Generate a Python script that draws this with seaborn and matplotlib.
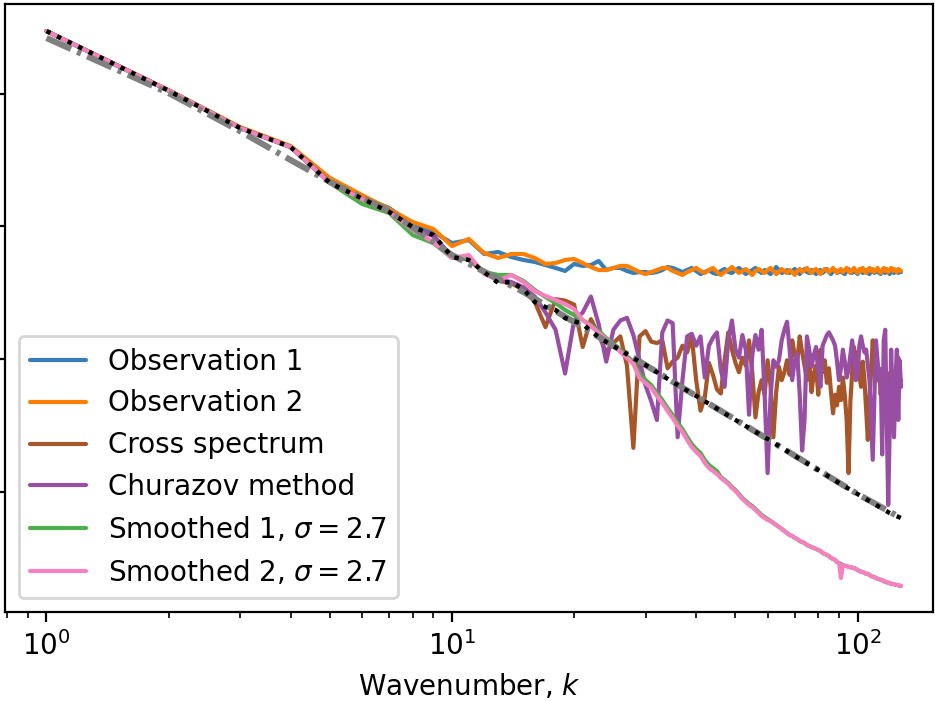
import numpy as np
import pandas as pd
import matplotlib
matplotlib.use("Agg")
import matplotlib.pyplot as plt
import seaborn as sns
from matplotlib.ticker import NullLocator, NullFormatter

# ---------------- data (log10 of power) ----------------
k = list(range(1, 129))

obs1_log10 = [0.471, 0.023, -0.259, -0.403, -0.659, -0.780, -0.862, -0.991, -1.043, -1.127, -1.104, -1.209,
              -1.194, -1.232, -1.254, -1.269, -1.292, -1.314, -1.337, -1.284, -1.299, -1.292, -1.262, -1.330,
              -1.314, -1.314, -1.337, -1.352, -1.345, -1.345, -1.352, -1.345, -1.330, -1.307,
              -1.314, -1.330, -1.345, -1.330, -1.314, -1.337, -1.360, -1.345, -1.330, -1.352,
              -1.360, -1.337, -1.322, -1.345, -1.352, -1.330, -1.314, -1.337, -1.360, -1.345,
              -1.330, -1.314, -1.337, -1.352, -1.330, -1.345, -1.360, -1.337, -1.307, -1.330,
              -1.352, -1.345, -1.330, -1.352, -1.337, -1.322, -1.345, -1.360, -1.337, -1.322,
              -1.345, -1.352, -1.330, -1.345, -1.360, -1.337, -1.330, -1.352, -1.337, -1.322,
              -1.345, -1.360, -1.337, -1.330, -1.352, -1.345, -1.330, -1.352, -1.360, -1.337,
              -1.322, -1.345, -1.352, -1.330, -1.345, -1.360, -1.337, -1.330, -1.352, -1.345,
              -1.330, -1.352, -1.360, -1.337, -1.330, -1.352, -1.345, -1.330, -1.352, -1.360,
              -1.337, -1.345, -1.352, -1.330, -1.345, -1.360, -1.337, -1.345, -1.352, -1.337,
              -1.345, -1.352, -1.337, -1.345]

obs2_log10 = [0.471, 0.027, -0.252, -0.395, -0.636, -0.765, -0.870, -0.968, -1.021, -1.149, -1.096, -1.202,
              -1.239, -1.209, -1.209, -1.239, -1.284, -1.277, -1.254, -1.247, -1.277, -1.307, -1.330, -1.330,
              -1.314, -1.299, -1.299, -1.322, -1.345, -1.360, -1.345, -1.330, -1.314, -1.314,
              -1.337, -1.352, -1.367, -1.345, -1.330, -1.314, -1.337, -1.352, -1.330, -1.314,
              -1.345, -1.367, -1.345, -1.330, -1.307, -1.330, -1.352, -1.337, -1.322, -1.345,
              -1.367, -1.337, -1.322, -1.337, -1.352, -1.330, -1.314, -1.337, -1.360, -1.345,
              -1.322, -1.337, -1.352, -1.330, -1.345, -1.367, -1.337, -1.322, -1.345, -1.330,
              -1.314, -1.337, -1.352, -1.330, -1.322, -1.345, -1.360, -1.337, -1.322, -1.330,
              -1.345, -1.330, -1.314, -1.337, -1.352, -1.330, -1.322, -1.345, -1.330, -1.314,
              -1.337, -1.352, -1.330, -1.314, -1.337, -1.352, -1.322, -1.337, -1.314, -1.337,
              -1.352, -1.330, -1.314, -1.337, -1.322, -1.345, -1.330, -1.314, -1.337, -1.352,
              -1.330, -1.314, -1.337, -1.322, -1.345, -1.330, -1.314, -1.337, -1.322, -1.330,
              -1.345, -1.322, -1.330, -1.337]

cross_log10 = [0.471, 0.023, -0.259, -0.403, -0.674, -0.795, -0.886, -1.013, -1.073,
               -1.23, -1.25, -1.35, -1.41, -1.43, -1.48, -1.57, -1.76, -1.55, -1.56,
               -1.59, -1.91, -1.70, -1.82, -1.95, -1.88, -1.83, -2.05, -2.67, -1.83,
               -1.79, -1.87, -1.88, -1.86, -2.07, -2.02, -1.99, -1.90, -1.95, -1.83,
               -2.16, -2.39, -2.29, -2.03, -2.12, -2.23, -2.26, -2.01, -1.80, -1.93,
               -2.03, -2.10, -1.99, -2.05, -1.86, -2.10, -2.44, -2.25, -2.16, -2.27,
               -2.01, -2.20, -2.59, -2.25, -2.06, -2.16, -2.10, -2.01, -2.12, -1.86,
               -1.97, -2.02, -1.83, -1.95, -2.05, -2.16, -2.01, -2.25, -2.11, -2.05,
               -2.27, -1.93, -2.10, -2.01, -2.18, -2.07, -2.25, -2.41, -2.27, -2.35,
               -2.21, -2.31, -2.14, -2.27, -2.46, -2.86, -2.32, -2.10, -1.91, -2.05,
               -1.95, -2.12, -2.21, -2.02, -2.16, -2.39, -2.61, -2.29, -2.10, -1.86,
               -2.07, -1.97, -2.16, -2.07, -2.27, -2.12, -2.44, -2.23, -2.35, -2.11,
               -2.31, -2.16, -2.41, -2.14, -2.25, -2.07, -1.99, -2.16, -2.16]

churazov_log10 = [0.471, 0.023, -0.259, -0.403, -0.666, -0.795, -0.886, -1.006, -1.073,
                  -1.23, -1.25, -1.35, -1.40, -1.42, -1.46, -1.53, -1.65, -1.78, -2.11,
                  -1.71, -1.65, -1.53, -1.74, -2.02, -1.78, -1.71, -1.69, -1.82, -2.01,
                  -2.20, -2.32, -2.46, -1.80, -1.71, -1.73, -2.59, -2.16, -1.83, -1.81,
                  -1.90, -1.83, -2.14, -1.90, -1.84, -1.80, -2.08, -2.21, -1.86, -1.71,
                  -1.93, -1.99, -1.82, -1.93, -2.42, -1.97, -1.82, -1.93, -1.78, -2.27,
                  -2.86, -2.29, -2.01, -2.06, -2.01, -1.86, -1.78, -1.72, -1.93, -2.16,
                  -2.01, -1.96, -2.27, -2.69, -2.46, -1.83, -1.93, -2.06, -1.97, -1.91,
                  -2.10, -2.21, -1.90, -1.86, -1.82, -1.80, -1.83, -1.86, -1.90, -2.02,
                  -2.16, -2.07, -1.93, -2.02, -2.14, -2.08, -1.97, -1.86, -2.01, -2.16,
                  -2.12, -1.90, -1.83, -1.90, -1.95, -1.93, -2.05, -2.16, -2.46, -2.76,
                  -2.31, -1.86, -2.01, -2.16, -2.08, -2.72, -1.86, -1.78, -2.46, -3.10,
                  -2.54, -1.93, -2.31, -2.59, -2.16, -1.93, -2.46, -2.01, -2.21]

smooth1_log10 = [0.471, 0.023, -0.259, -0.403, -0.674, -0.832, -0.900, -1.066, -1.127, -1.239, -1.239,
                 -1.345, -1.367, -1.367, -1.412, -1.480, -1.533, -1.578, -1.631, -1.669, -1.707, -1.745, -1.790,
                 -1.842, -1.887, -1.933, -1.978, -2.023, -2.113, -2.159, -2.197, -2.257, -2.309,
                 -2.370, -2.422, -2.483, -2.528, -2.588, -2.641, -2.679, -2.709, -2.762, -2.799,
                 -2.822, -2.845, -2.890, -2.912, -2.935, -2.965, -2.988, -3.018, -3.048, -3.070,
                 -3.093, -3.108, -3.131, -3.153, -3.176, -3.191, -3.206,
                 -3.221, -3.236, -3.251, -3.266, -3.281, -3.297, -3.312, -3.327, -3.334, -3.349,
                 -3.357, -3.372, -3.379, -3.387, -3.402, -3.410, -3.417, -3.425, -3.432, -3.440,
                 -3.447, -3.462, -3.470, -3.477, -3.485, -3.500, -3.507, -3.515, -3.530, -3.538,
                 -3.545, -3.553, -3.560, -3.560, -3.568, -3.568, -3.575, -3.575, -3.583, -3.590,
                 -3.598, -3.605, -3.605, -3.613, -3.620, -3.620, -3.628, -3.636, -3.643, -3.643,
                 -3.651, -3.658, -3.658, -3.666, -3.666, -3.673, -3.681, -3.681, -3.688, -3.688,
                 -3.696, -3.696, -3.696, -3.703, -3.703, -3.703, -3.711, -3.711]

smooth2_log10 = [0.471, 0.023, -0.259, -0.403, -0.674, -0.795, -0.893, -1.028, -1.119, -1.239, -1.217,
                 -1.360, -1.405, -1.367, -1.420, -1.488, -1.525, -1.556, -1.586, -1.624, -1.707, -1.752, -1.805,
                 -1.850, -1.895, -1.948, -1.993, -2.038, -2.144, -2.182, -2.219, -2.279, -2.332,
                 -2.392, -2.445, -2.505, -2.550, -2.611, -2.664, -2.701, -2.732, -2.784, -2.822,
                 -2.845, -2.867, -2.897, -2.920, -2.942, -2.973, -2.995, -3.025, -3.055, -3.078,
                 -3.101, -3.116, -3.138, -3.161, -3.184, -3.199, -3.214,
                 -3.221, -3.236, -3.251, -3.266, -3.281, -3.297, -3.312, -3.327, -3.334, -3.349,
                 -3.357, -3.372, -3.379, -3.387, -3.402, -3.410, -3.417, -3.425, -3.432, -3.440,
                 -3.447, -3.462, -3.470, -3.477, -3.485, -3.500, -3.507, -3.515, -3.530, -3.538,
                 -3.651, -3.553, -3.560, -3.560, -3.568, -3.568, -3.575, -3.575, -3.583, -3.590,
                 -3.598, -3.605, -3.605, -3.613, -3.620, -3.620, -3.628, -3.636, -3.643, -3.643,
                 -3.651, -3.658, -3.658, -3.666, -3.666, -3.673, -3.681, -3.681, -3.688, -3.688,
                 -3.696, -3.696, -3.696, -3.703, -3.703, -3.703, -3.711, -3.711]

# underlying ("true") spectrum, black dotted
k_true = list(range(1, 24)) + [24, 26, 28, 30, 35, 40, 50, 60, 70, 80, 90, 100, 110, 120, 128]
true_log10 = [0.471, 0.022, -0.259, -0.403, -0.674, -0.791, -0.893, -1.006, -1.066, -1.232, -1.254,
              -1.345, -1.428, -1.420, -1.473, -1.571, -1.609, -1.631, -1.692, -1.715, -1.737, -1.790, -1.835,
              -1.872, -1.933, -1.993, -2.046, -2.174, -2.279, -2.460, -2.603, -2.731, -2.837, -2.935,
              -3.018, -3.093, -3.161, -3.199]

# model spectrum, grey dash-dot
k_model = [1, 2, 3, 4, 5, 7, 10, 15, 20, 30, 40, 60, 80, 100, 128]
model_log10 = [0.419, 0.004, -0.283, -0.501, -0.666, -0.886, -1.217, -1.495, -1.722, -2.046, -2.279,
               -2.603, -2.837, -3.018, -3.199]

labels = ["Observation 1", "Observation 2", "Cross spectrum", "Churazov method",
          r"Smoothed 1, $\sigma = 2.7$", r"Smoothed 2, $\sigma = 2.7$"]
colors = ["#377eb8", "#ff7f00", "#a65628", "#984ea3", "#4daf4a", "#f781bf"]

# ---------------- style ----------------
sns.set_style("ticks", rc={
    "axes.edgecolor": "black", "xtick.color": "black", "ytick.color": "black",
    "axes.linewidth": 0.8, "text.color": "black", "axes.labelcolor": "black",
})
plt.rcParams["font.family"] = ["DejaVu Sans"]
plt.rcParams["font.size"] = 10
plt.rcParams["mathtext.fontset"] = "dejavusans"

fig = plt.figure(figsize=(4.675, 3.505), dpi=200)
ax = fig.add_axes([5 / 935, 89 / 701, 928 / 935, 608 / 701])

series = [obs1_log10, obs2_log10, cross_log10, churazov_log10, smooth1_log10, smooth2_log10]
for vals, lab, col in zip(series, labels, colors):
    df = pd.DataFrame({"k": k, "P": np.power(10.0, vals)})
    sns.lineplot(data=df, x="k", y="P", ax=ax, color=col, lw=1.5, label=lab,
                 estimator=None, sort=False)

df_model = pd.DataFrame({"k": k_model, "P": np.power(10.0, model_log10)})
sns.lineplot(data=df_model, x="k", y="P", ax=ax, color="grey", lw=2.2,
             ls=(0, (4.4, 1.1, 0.7, 1.1)),
             estimator=None, sort=False, legend=False)
df_true = pd.DataFrame({"k": k_true, "P": np.power(10.0, true_log10)})
sns.lineplot(data=df_true, x="k", y="P", ax=ax, color="black", lw=1.6, ls=":",
             estimator=None, sort=False, legend=False)

ax.set_xscale("log")
ax.set_yscale("log")
ax.set_xlim(10 ** -0.1023, 10 ** 2.186)
ax.set_ylim(10 ** -3.907, 10 ** 0.675)
ax.yaxis.set_minor_locator(NullLocator())
ax.yaxis.set_major_formatter(NullFormatter())
ax.set_ylabel("")
ax.set_xlabel(r"Wavenumber, $k$", fontsize=10)
ax.tick_params(axis="both", which="major", labelsize=10, length=3.5, width=0.8, direction="out")
ax.tick_params(axis="x", which="minor", length=2, width=0.6, direction="out")
for s in ["top", "right"]:
    ax.spines[s].set_visible(True)

handles, labs = ax.get_legend_handles_labels()
ax.legend(handles[:6], labs[:6], loc="lower left", frameon=True, fontsize=10,
          framealpha=0.8, edgecolor="#cccccc", fancybox=True)

fig.savefig("out.png", dpi=200)
